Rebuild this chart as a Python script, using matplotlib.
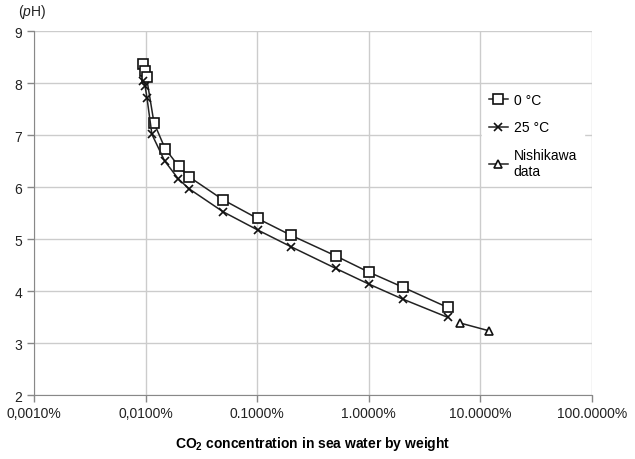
import matplotlib
matplotlib.use("Agg")
import matplotlib.pyplot as plt
from matplotlib.ticker import FixedLocator, NullLocator

plt.rcParams['font.family'] = ['Liberation Sans', 'DejaVu Sans']
plt.rcParams['mathtext.fontset'] = 'custom'
plt.rcParams['mathtext.rm'] = 'Liberation Sans'
plt.rcParams['mathtext.it'] = 'Liberation Sans:italic'
plt.rcParams['mathtext.bf'] = 'Liberation Sans:bold'

# CO2 concentration (% by weight) and pH
conc_0c = [0.0095, 0.0099, 0.0102, 0.0119, 0.0150, 0.0199, 0.0246,
           0.0495, 0.101, 0.200, 0.507, 1.00, 2.02, 5.1]
ph_0c = [8.37, 8.24, 8.12, 7.24, 6.74, 6.40, 6.20,
         5.76, 5.40, 5.08, 4.68, 4.37, 4.08, 3.69]

conc_25c = [0.0095, 0.0099, 0.0103, 0.0114, 0.0148, 0.0197, 0.0246,
            0.0495, 0.101, 0.200, 0.507, 1.00, 2.02, 5.1]
ph_25c = [8.05, 7.95, 7.72, 7.02, 6.51, 6.16, 5.97,
          5.53, 5.18, 4.86, 4.44, 4.14, 3.85, 3.50]

conc_nishikawa = [6.6, 12.0]
ph_nishikawa = [3.39, 3.24]

xticks = [0.001, 0.01, 0.1, 1, 10, 100]
xticklabels = ["0,0010%", "0,0100%", "0.1000%", "1.0000%", "10.0000%", "100.0000%"]
yticks = [2, 3, 4, 5, 6, 7, 8, 9]

fig = plt.figure(figsize=(6.35, 4.6), dpi=100)
ax = fig.add_axes([0.0535, 0.1385, 0.8785, 0.7913])

line_kw = dict(color='#222222', lw=1.1, mfc='white', mec='#111111', mew=1.2)
ax.plot(conc_0c, ph_0c, marker='s', ms=6.5, label='0 °C', **line_kw)
ax.plot(conc_25c, ph_25c, marker='x', ms=6, label='25 °C', **line_kw)
ax.plot(conc_nishikawa, ph_nishikawa, marker='^', ms=6, label='Nishikawa\ndata', **line_kw)

ax.set_xscale('log')
ax.set_xlim(0.001, 100)
ax.set_ylim(2, 9)
ax.xaxis.set_major_locator(FixedLocator(xticks))
ax.xaxis.set_minor_locator(NullLocator())
ax.set_xticklabels(xticklabels)
ax.set_yticks(yticks)
ax.tick_params(labelsize=10, colors='#888888', labelcolor='#222222',
               length=5, width=1)
ax.tick_params(axis='x', pad=3)

ax.grid(True, color='#cccccc', lw=1)
ax.set_axisbelow(True)
for side in ['top', 'right']:
    ax.spines[side].set_visible(False)
for side in ['left', 'bottom']:
    ax.spines[side].set_color('#888888')

ax.set_xlabel(r"CO$_\mathbf{2}$ concentration in sea water by weight",
              fontsize=10, fontweight='bold', labelpad=10)
fig.text(0.028, 0.974, r"($\mathit{p}$H)", fontsize=10, va='center', ha='left',
         color='#222222')

leg = ax.legend(loc='upper left', bbox_to_anchor=(0.79, 0.87), fontsize=10,
                frameon=True, fancybox=False, handlelength=1.4,
                handletextpad=0.4, labelspacing=1.0, borderpad=0.5)
leg.get_frame().set_edgecolor('white')
leg.get_frame().set_facecolor('white')
leg.get_frame().set_alpha(1)

fig.savefig('out.png', dpi=100)
